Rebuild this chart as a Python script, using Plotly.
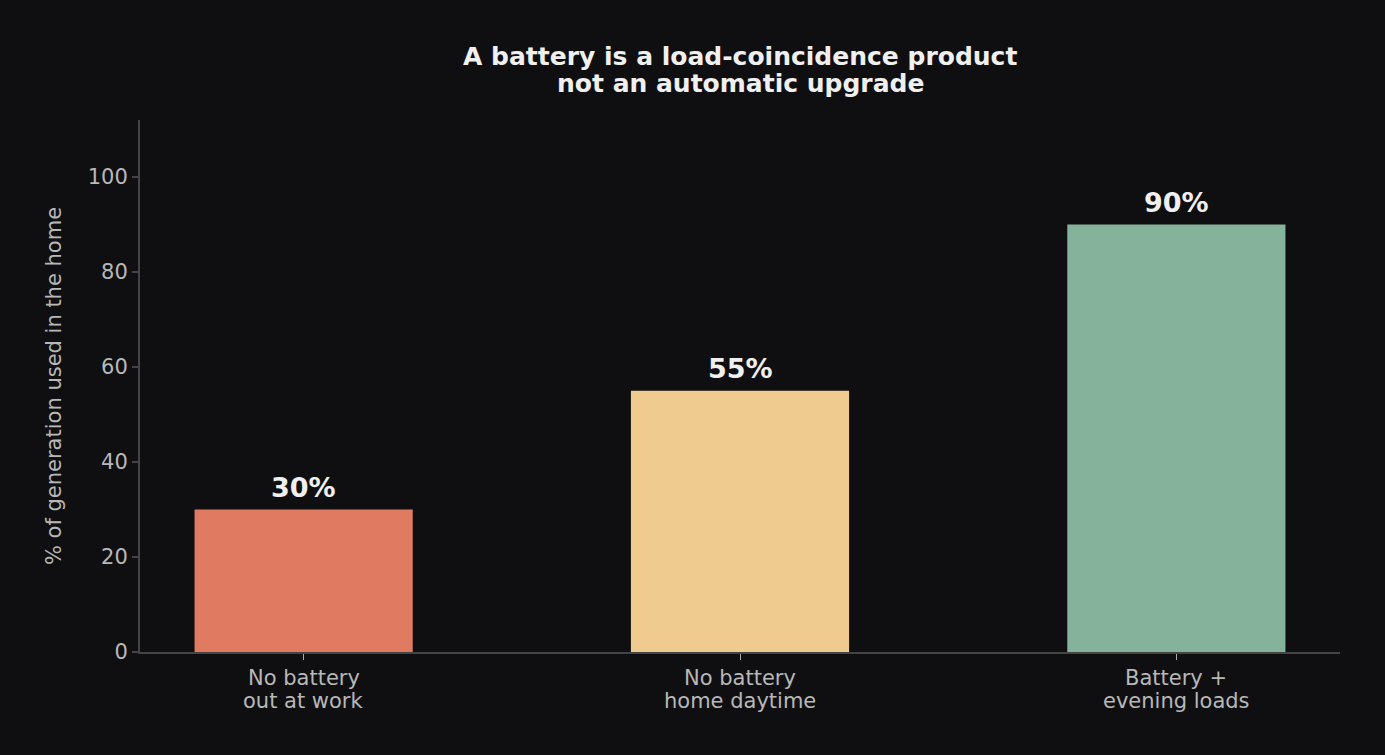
import plotly.graph_objects as go

categories = [["No battery", "out at work"], ["No battery", "home daytime"], ["Battery +", "evening loads"]]
values = [30, 55, 90]
labels = ["30%", "55%", "90%"]
colors = ["#E07B61", "#F0CB8F", "#84B29B"]
y_ticks = [0, 20, 40, 60, 80, 100]
title_lines = ["A battery is a load-coincidence product", "not an automatic upgrade"]

BG = "#0F0F11"
FONT = "DejaVu Sans"
TICK_COLOR = "#B8B8B8"

fig = go.Figure()
fig.add_trace(go.Bar(
    x=list(range(len(categories))), y=values,
    marker=dict(color=colors, line=dict(width=0)),
    width=0.5, hoverinfo="skip",
))

for i, (v, t) in enumerate(zip(values, labels)):
    fig.add_annotation(x=i, y=v, text=f"<b>{t}</b>", showarrow=False,
                       yanchor="bottom", yshift=5,
                       font=dict(family=FONT, size=27, color="#F0F0F0"))

plot_top, plot_bottom = 120, 652
H = plot_bottom - plot_top

# category labels (two lines each, tighter line spacing)
for i, lines in enumerate(categories):
    for ypx, line in zip([678, 701], lines):
        fig.add_annotation(x=i, xref="x", xanchor="center",
                           y=(plot_bottom - ypx) / H, yref="paper", yanchor="middle",
                           showarrow=False, text=line,
                           font=dict(family=FONT, size=21, color=TICK_COLOR))

# title as two lines (to match line spacing)
for line, ypx in zip(title_lines, [56, 84]):
    fig.add_annotation(x=0.5, xref="paper", xanchor="center",
                       y=(plot_bottom - ypx) / H, yref="paper",
                       yanchor="middle", showarrow=False, text=f"<b>{line}</b>",
                       font=dict(family=FONT, size=25, color="#F0F0F0"))

fig.update_layout(
    width=1385, height=755,
    paper_bgcolor=BG, plot_bgcolor=BG,
    margin=dict(l=140, r=45, t=120, b=103),
    font=dict(family=FONT, color=TICK_COLOR, size=21),
    showlegend=False,
    xaxis=dict(
        range=[-0.375, 2.375], tickmode="array",
        tickvals=list(range(len(categories))), showticklabels=False,
        showgrid=False, zeroline=False,
        showline=True, linecolor="#444444", linewidth=2,
        ticks="outside", ticklen=6, tickcolor="#AAAAAA", tickwidth=1,
    ),
    yaxis=dict(
        range=[0, 112], tickmode="array", tickvals=y_ticks,
        showgrid=False, zeroline=False,
        showline=True, linecolor="#444444", linewidth=2,
        ticks="outside", ticklen=6, tickcolor="#444444", tickwidth=2,
        tickfont=dict(family=FONT, size=21, color=TICK_COLOR),
        title=dict(text="% of generation used in the home", standoff=20,
                   font=dict(family=FONT, size=21, color=TICK_COLOR)),
    ),
)

fig.write_html("out.html")
